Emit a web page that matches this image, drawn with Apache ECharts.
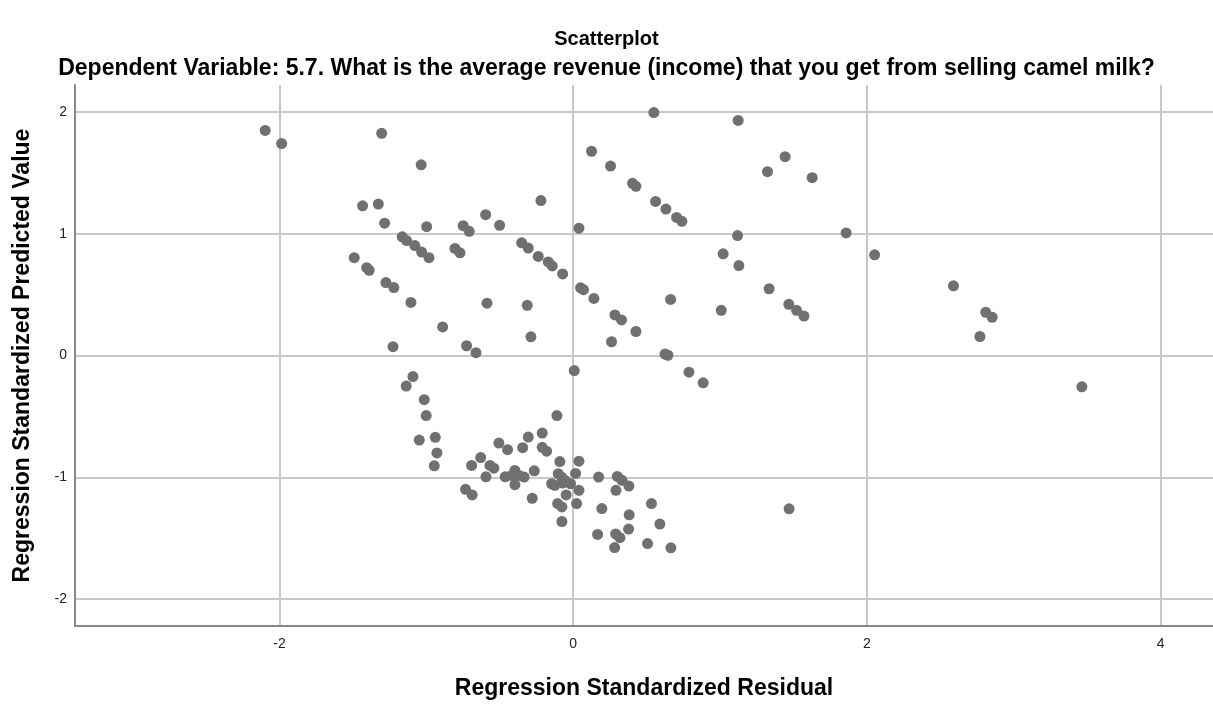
<!DOCTYPE html>
<html>
<head>
<meta charset="utf-8">
<script src="https://cdn.jsdelivr.net/npm/echarts@6/dist/echarts.min.js"></script>
<style>
html,body{margin:0;padding:0;background:#fff;}
#chart{width:1213px;height:705px;}
</style>
</head>
<body>
<div id="chart"></div>
<script>
const chartTitle = "Scatterplot";
const chartSubtitle = "Dependent Variable: 5.7. What is the average revenue (income) that you get from selling camel milk?";
const xAxisName = "Regression Standardized Residual";
const yAxisName = "Regression Standardized Predicted Value";
const xTicks = [-2, 0, 2, 4];
const yTicks = [-2, -1, 0, 1, 2];
const xRange = [-3.392, 4.356];
const yRange = [-2.221, 2.221];

const residual = [
 -2.097,-1.985,-1.304,-1.035,-1.434,-1.327,-1.284,-0.998,-0.596,-0.501,
 -0.749,-0.708,-1.164,-1.134,-1.078,-1.032,-0.982,-0.805,-0.771,-1.491,
 -1.406,-1.389,-1.275,-1.221,-0.351,-0.306,-0.238,-0.220,0.549,1.123,
 0.125,0.254,0.404,0.427,0.561,0.631,0.704,0.740,0.039,1.323,
 1.443,1.627,1.119,1.021,1.128,-0.170,-0.143,-0.072,0.050,0.070,
 1.334,1.858,2.052,2.589,1.008,1.468,1.521,1.571,2.809,2.852,
 2.769,3.463,0.885,1.470,0.141,0.284,0.329,0.427,0.261,-0.313,
 -0.288,0.007,0.663,0.625,0.645,0.788,-1.105,-0.587,-0.889,-1.227,
 -0.726,-0.662,-1.091,-1.137,-1.014,-1.001,-1.048,-0.939,-0.928,-0.946,
 -0.111,-0.211,-0.306,-0.506,-0.447,-0.344,-0.211,-0.181,-0.630,-0.692,
 -0.567,-0.540,-0.594,-0.463,-0.397,-0.368,-0.334,-0.419,-0.397,-0.265,
 -0.091,0.039,0.016,-0.102,-0.079,-0.056,-0.147,-0.125,-0.072,-0.018,
 -0.279,-0.048,0.039,-0.106,-0.077,0.023,-0.077,-0.733,-0.688,0.173,
 0.300,0.332,0.379,0.291,0.195,0.533,0.381,0.590,0.377,0.166,
 0.289,0.318,0.282,0.506,0.665
];
const predicted = [
 1.848,1.740,1.824,1.566,1.229,1.243,1.086,1.058,1.156,1.069,
 1.066,1.020,0.974,0.944,0.903,0.849,0.803,0.879,0.843,0.803,
 0.721,0.699,0.599,0.558,0.925,0.882,0.813,1.272,1.995,1.930,
 1.677,1.555,1.414,1.389,1.265,1.202,1.134,1.102,1.045,1.509,
 1.632,1.460,0.985,0.835,0.738,0.768,0.735,0.670,0.556,0.540,
 0.548,1.006,0.827,0.572,0.371,0.420,0.371,0.324,0.355,0.314,
 0.156,-0.257,-0.224,-1.259,0.469,0.333,0.292,0.197,0.113,0.412,
 0.153,-0.124,0.460,0.012,0.002,-0.137,0.436,0.430,0.235,0.072,
 0.080,0.023,-0.173,-0.251,-0.363,-0.493,-0.694,-0.672,-0.800,-0.906,
 -0.493,-0.637,-0.670,-0.719,-0.773,-0.757,-0.754,-0.786,-0.838,-0.903,
 -0.903,-0.925,-0.996,-0.996,-0.944,-0.985,-0.998,-0.985,-1.061,-0.947,
 -0.871,-0.868,-0.968,-0.971,-0.998,-1.025,-1.053,-1.066,-1.047,-1.053,
 -1.172,-1.145,-1.107,-1.216,-1.243,-1.216,-1.363,-1.099,-1.145,-0.998,
 -0.993,-1.025,-1.072,-1.107,-1.257,-1.216,-1.308,-1.384,-1.425,-1.469,
 -1.465,-1.496,-1.577,-1.544,-1.579
];

const points = residual.map((x, i) => [x, predicted[i]]);
const font = "'Liberation Sans', Arial, sans-serif";

const chart = echarts.init(document.getElementById('chart'), null, {renderer: 'canvas'});
chart.setOption({
  animation: false,
  backgroundColor: '#ffffff',
  title: [
    {text: chartTitle, left: 'center', top: 24,
     textStyle: {fontFamily: font, fontSize: 20, fontWeight: 'bold', color: '#000'}},
    {text: chartSubtitle, left: 'center', top: 52,
     textStyle: {fontFamily: font, fontSize: 23, fontWeight: 'bold', color: '#000'}}
  ],
  grid: {left: 75, top: 85, right: 0, bottom: 75, containLabel: false},
  xAxis: {
    type: 'value', min: xRange[0], max: xRange[1],
    name: xAxisName, nameLocation: 'middle', nameGap: 51,
    nameTextStyle: {fontFamily: font, fontSize: 23, fontWeight: 'bold', color: '#000'},
    axisLine: {show: true, onZero: false, lineStyle: {color: '#888', width: 2}},
    axisTick: {show: false, customValues: xTicks},
    axisLabel: {customValues: xTicks, fontFamily: font, fontSize: 14, color: '#222', margin: 11},
    splitLine: {show: true, lineStyle: {color: '#c8c8c8', width: 2}}
  },
  yAxis: {
    type: 'value', min: yRange[0], max: yRange[1],
    name: yAxisName, nameLocation: 'middle', nameGap: 41,
    nameTextStyle: {fontFamily: font, fontSize: 23, fontWeight: 'bold', color: '#000'},
    axisLine: {show: true, onZero: false, lineStyle: {color: '#888', width: 2}},
    axisTick: {show: false, customValues: yTicks},
    axisLabel: {customValues: yTicks, fontFamily: font, fontSize: 14, color: '#222', margin: 8},
    splitLine: {show: true, lineStyle: {color: '#c8c8c8', width: 2}}
  },
  series: [{
    type: 'scatter',
    data: points,
    symbol: 'circle',
    symbolSize: 11,
    itemStyle: {color: '#707070', opacity: 1},
    silent: true
  }]
});
</script>
</body>
</html>
